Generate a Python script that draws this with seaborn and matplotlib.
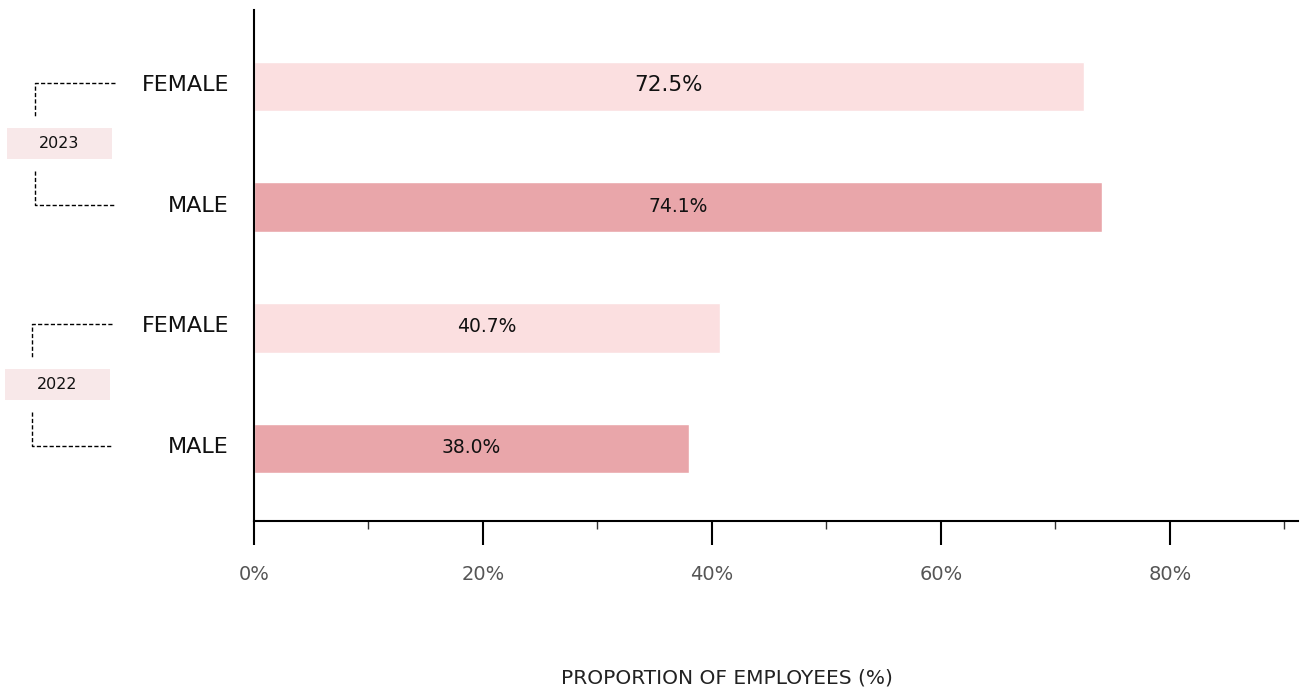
import matplotlib
matplotlib.use("Agg")
import matplotlib.pyplot as plt
import seaborn as sns
import pandas as pd
from matplotlib.patches import Rectangle
from matplotlib.transforms import blended_transform_factory, ScaledTranslation

# ---- data ----
years = ["2023", "2023", "2022", "2022"]
genders = ["FEMALE", "MALE", "FEMALE", "MALE"]
values = [72.5, 74.1, 40.7, 38.0]
value_labels = ["72.5%", "74.1%", "40.7%", "38.0%"]
xticks = [0, 20, 40, 60, 80]
xtick_labels = ["0%", "20%", "40%", "60%", "80%"]
minor_xticks = [10, 30, 50, 70, 90]
year_groups = ["2023", "2022"]
x_label = "PROPORTION OF EMPLOYEES (%)"

sns.set_theme(style="white")
plt.rcParams['font.family'] = ['DejaVu Sans']

df = pd.DataFrame({
    "key": [f"{g} {y}" for g, y in zip(genders, years)],
    "gender": genders,
    "value": values,
})

W, H = 1300, 690
fig = plt.figure(figsize=(13, 6.9), dpi=100)
ax = fig.add_axes([254 / W, 1 - 521 / H, (1298 - 254) / W, (521 - 10) / H])

sns.barplot(data=df, x="value", y="key", hue="gender",
            palette={"FEMALE": "#fbdfe0", "MALE": "#e9a6aa"},
            dodge=False, width=0.41, legend=False, saturation=1,
            ax=ax, errorbar=None)

ax.set_xlim(0, 91.2)
ax.set_ylim(3.60, -0.634)

# spines
for s in ["top", "right"]:
    ax.spines[s].set_visible(False)
for s in ["left", "bottom"]:
    ax.spines[s].set_color("black")
    ax.spines[s].set_linewidth(1.5)

# x ticks
ax.set_xticks(xticks)
ax.set_xticklabels(xtick_labels)
ax.set_xticks(minor_xticks, minor=True)
ax.tick_params(axis="x", which="major", bottom=True, length=17, width=1.5,
               color="black", direction="out", pad=15, labelsize=14,
               labelcolor="#555555")
ax.tick_params(axis="x", which="minor", bottom=True, length=6, width=1,
               color="#333333", direction="out")

# y ticks
ax.set_yticks(range(len(genders)))
ax.set_yticklabels(genders, fontsize=16, color="#111111")
ax.tick_params(axis="y", length=0, pad=18)
lift = ScaledTranslation(0, 2.5 / 72, fig.dpi_scale_trans)
for t in ax.get_yticklabels():
    t.set_transform(t.get_transform() + lift)
ax.set_ylabel("")

ax.set_xlabel(x_label, fontsize=14.5, color="#222222")
ax.xaxis.set_label_coords(0.453, -0.288)

# value labels
for i, (v, lab) in enumerate(zip(values, value_labels)):
    ax.text(v / 2, i - 0.01, lab, ha="center", va="center",
            fontsize=15.5 if i == 0 else 13.5, color="#111111")

# year brackets
trans = blended_transform_factory(fig.transFigure, ax.transData)
bracket_specs = [  # (first index, vertical x px, line end px, box left px, box right px)
    (0, 35, 115, 7, 112),
    (2, 32, 112, 5, 110),
]
ls = (0, (3, 1.6))
for yr, (i, vx, hx, bl, br) in zip(year_groups, bracket_specs):
    ax.plot([hx / W, vx / W, vx / W], [i - 0.03, i - 0.03, i + 0.26],
            transform=trans, clip_on=False, color="black", lw=1, ls=ls)
    ax.plot([vx / W, vx / W, hx / W], [i + 0.70, i + 0.98, i + 0.98],
            transform=trans, clip_on=False, color="black", lw=1, ls=ls)
    ax.add_patch(Rectangle((bl / W, i + 0.47 - 0.128), (br - bl) / W, 0.256,
                           transform=trans, clip_on=False,
                           facecolor="#f8e8e9", edgecolor="none"))
    ax.text((bl + br) / 2 / W, i + 0.47, yr, transform=trans,
            ha="center", va="center", fontsize=11.5, color="#111111")

fig.savefig("out.png", dpi=100)
